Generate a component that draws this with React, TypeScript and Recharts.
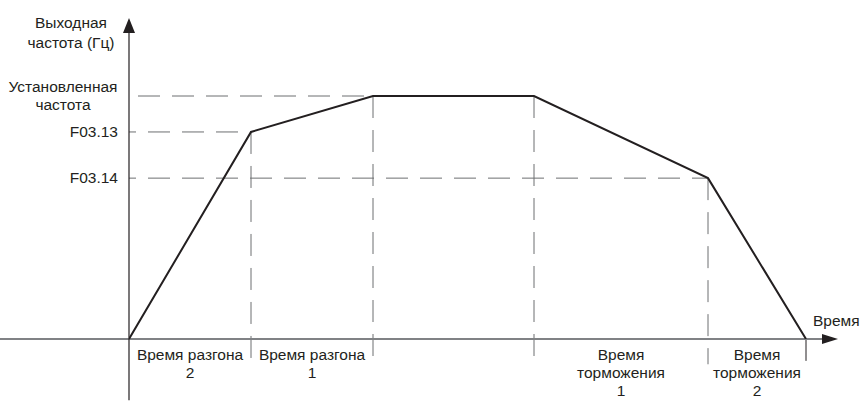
import { LineChart, Line, XAxis, YAxis, ReferenceLine, ReferenceDot } from 'recharts';

// time points of the frequency profile and matching output frequency
const times = [0, 12.2, 24.4, 40.5, 57.9, 67.7];
const freqs = [0, 42.6, 50, 50, 33.1, 0];

const setFreq = 50;
const f0313 = 42.6;
const f0314 = 33.1;

const yTickValues = [setFreq, f0313, f0314];
const yTickLabels = [['Установленная', 'частота'], ['F03.13'], ['F03.14']];

const phaseBounds = [[0, 12.2], [12.2, 24.4], [40.5, 57.9], [57.9, 67.7]];
const phaseLabels = [
    ['Время разгона', '2'],
    ['Время разгона', '1'],
    ['Время', 'торможения', '1'],
    ['Время', 'торможения', '2'],
];

const yTitle = ['Выходная', 'частота (Гц)'];
const xTitle = 'Время';

const data = times.map((t, i) => ({ t, freq: freqs[i] }));
const phaseMids = phaseBounds.map(([a, b]) => (a + b) / 2);

const X_MAX = 70.9;
const Y_MAX = 66.05;
const BELOW = -5.2;

const FONT = '"Liberation Sans", Arial, sans-serif';
const TEXT = '#231f20';
const DASH = '#6d6e70';
const dash = '22 12';

function YTick(props: any) {
    const { x, y, payload } = props;
    const idx = yTickValues.indexOf(payload.value);
    const lines = yTickLabels[idx] || [];
    if (lines.length > 1) {
        return (
            <text x={x - 55} y={y - 4} textAnchor="middle" fill={TEXT} fontSize={15.5} fontFamily={FONT}>
                {lines.map((l, i) => (
                    <tspan key={i} x={x - 55} dy={i === 0 ? 0 : 18}>{l}</tspan>
                ))}
            </text>
        );
    }
    return (
        <text x={x} y={y + 5} textAnchor="end" fill={TEXT} fontSize={15.5} fontFamily={FONT}>
            {lines[0]}
        </text>
    );
}

function XTick(props: any) {
    const { x, y, index } = props;
    const lines = phaseLabels[index] || [];
    return (
        <text x={x} y={y + 21} textAnchor="middle" fill={TEXT} fontSize={15.5} fontFamily={FONT}>
            {lines.map((l, i) => (
                <tspan key={i} x={x} dy={i === 0 ? 0 : 18}>{l}</tspan>
            ))}
        </text>
    );
}

function XArrow(props: any) {
    const { cx, cy } = props;
    return (
        <g>
            <polygon points={`${cx},${cy} ${cx - 16},${cy - 5} ${cx - 16},${cy + 5}`} fill="#231f20" />
            <text x={cx - 25} y={cy - 13} fill={TEXT} fontSize={15.5} fontFamily={FONT}>{xTitle}</text>
        </g>
    );
}

function YArrow(props: any) {
    const { cx, cy } = props;
    return (
        <g>
            <polygon points={`${cx},${cy} ${cx - 6},${cy + 15} ${cx + 6},${cy + 15}`} fill="#231f20" />
            <text x={cx - 58} y={cy + 10} textAnchor="middle" fill={TEXT} fontSize={15.5} fontFamily={FONT}>
                <tspan x={cx - 58} dy={0}>{yTitle[0]}</tspan>
                <tspan x={cx - 58} dy={20}>{yTitle[1]}</tspan>
            </text>
        </g>
    );
}

export default function App() {
    return (
        <div style={{ position: 'absolute', left: 0, top: 0, width: 861, height: 403, background: '#fff' }}>
            <LineChart width={861} height={403} data={data} margin={{ top: 18, right: 23, bottom: 0, left: 0 }}>
                <XAxis
                    type="number"
                    dataKey="t"
                    domain={[0, X_MAX]}
                    allowDataOverflow
                    ticks={phaseMids}
                    interval={0}
                    axisLine={false}
                    tickLine={false}
                    tickSize={0}
                    tickMargin={0}
                    height={64}
                    tick={<XTick />}
                />
                <YAxis
                    type="number"
                    domain={[0, Y_MAX]}
                    allowDataOverflow
                    ticks={yTickValues}
                    interval={0}
                    axisLine={false}
                    tickLine={false}
                    tickSize={0}
                    tickMargin={11}
                    width={129}
                    tick={<YTick />}
                />

                {/* guide lines */}
                <ReferenceLine segment={[{ x: 0.9, y: setFreq }, { x: times[3], y: setFreq }]} stroke={DASH} strokeDasharray={dash} ifOverflow="visible" />
                <ReferenceLine segment={[{ x: 0, y: f0313 }, { x: times[1], y: f0313 }]} stroke={DASH} strokeDasharray={dash} strokeDashoffset={15} ifOverflow="visible" />
                <ReferenceLine segment={[{ x: 0, y: f0314 }, { x: times[4], y: f0314 }]} stroke={DASH} strokeDasharray={dash} strokeDashoffset={15} ifOverflow="visible" />
                <ReferenceLine segment={[{ x: times[1], y: f0313 }, { x: times[1], y: BELOW }]} stroke={DASH} strokeDasharray={dash} ifOverflow="visible" />
                <ReferenceLine segment={[{ x: times[2], y: setFreq }, { x: times[2], y: BELOW }]} stroke={DASH} strokeDasharray={dash} ifOverflow="visible" />
                <ReferenceLine segment={[{ x: times[3], y: setFreq }, { x: times[3], y: BELOW }]} stroke={DASH} strokeDasharray={dash} ifOverflow="visible" />
                <ReferenceLine segment={[{ x: times[4], y: f0314 }, { x: times[4], y: BELOW }]} stroke={DASH} strokeDasharray={dash} ifOverflow="visible" />
                <ReferenceLine segment={[{ x: times[5], y: 0 }, { x: times[5], y: -4.5 }]} stroke="#231f20" ifOverflow="visible" />

                {/* axes */}
                <ReferenceLine segment={[{ x: -12.9, y: 0 }, { x: X_MAX - 1.6, y: 0 }]} stroke="#808285" strokeWidth={2} ifOverflow="visible" />
                <ReferenceLine segment={[{ x: 0, y: -12.6 }, { x: 0, y: Y_MAX - 3.1 }]} stroke="#231f20" strokeWidth={1.2} ifOverflow="visible" />
                <ReferenceDot x={X_MAX} y={0} r={0} ifOverflow="visible" shape={<XArrow />} />
                <ReferenceDot x={0} y={Y_MAX} r={0} ifOverflow="visible" shape={<YArrow />} />

                <Line
                    type="linear"
                    dataKey="freq"
                    stroke="#231f20"
                    strokeWidth={2}
                    dot={false}
                    activeDot={false}
                    isAnimationActive={false}
                />
            </LineChart>
        </div>
    );
}
